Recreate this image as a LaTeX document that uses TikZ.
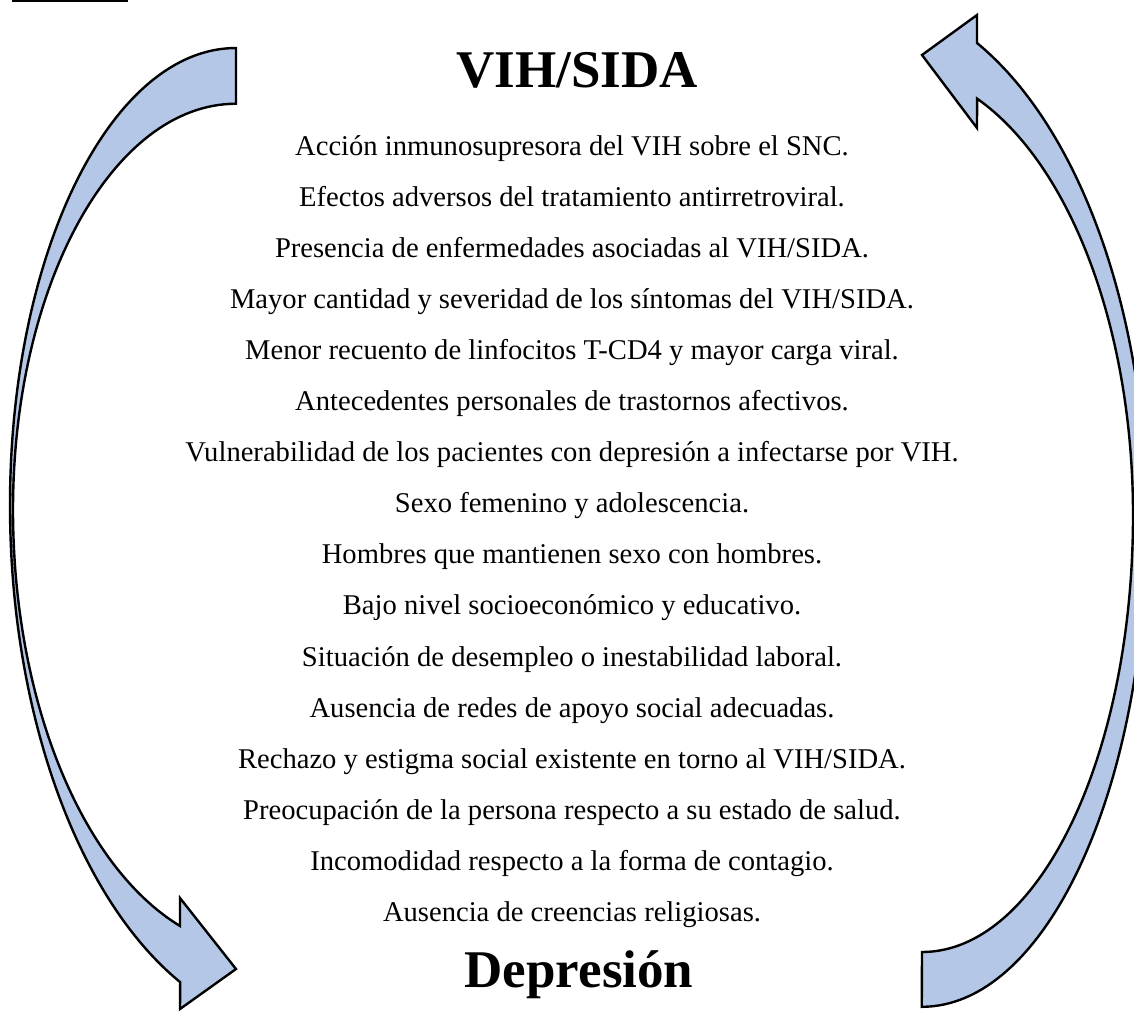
\documentclass[tikz,border=0pt]{standalone}
\usepackage{fontspec}
\setmainfont{Liberation Serif}
\usepackage{tikz}
\usetikzlibrary{positioning}
\definecolor{arrowblue}{RGB}{180,199,231}
\tikzstyle{bigarrow} = [draw=black, line width=2.4pt, fill=arrowblue, line join=miter]
\tikzstyle{headline} = [font=\fontsize{53}{60}\selectfont\bfseries, inner sep=0pt, anchor=base]
\tikzstyle{cause} = [font=\fontsize{28.6}{31}\selectfont, inner sep=0pt, text height=20pt, text depth=6pt]

\begin{document}
\begin{tikzpicture}[x=1pt, y=-1pt, node distance=24.7pt]
\useasboundingbox (0,0) rectangle (1134,1010);

% rule at the top
\draw[line width=1.2pt] (12,1) -- (128,1);

% Left arrow (down)
\draw[bigarrow] (236,48)
  arc[start angle=-90, end angle=-180, x radius=226, y radius=457]
  arc[start angle=180, end angle=114.4, x radius=290, y radius=524]
  -- (180,1009) -- (236,969) -- (180,898) -- (180,926)
  arc[start angle=108.9, end angle=180, x radius=247, y radius=440]
  arc[start angle=180, end angle=270, x radius=223, y radius=406]
  -- cycle;

% Right arrow (up)
\draw[bigarrow] (977,43)
  arc[start angle=-65.5, end angle=0, x radius=290, y radius=524]
  arc[start angle=0, end angle=90, x radius=225, y radius=487]
  -- (922,952)
  arc[start angle=90, end angle=0, x radius=211, y radius=437]
  arc[start angle=0, end angle=-69, x radius=243, y radius=446]
  -- (977,128) -- (922,55) -- (977,15) -- cycle;

% Titles
\node[headline] (vih) at (577,87) {VIH/SIDA};
\node[headline] (dep) at (579,987) {Depresión};

% Factors
\node[cause, anchor=base] (c1) at (572,155) {Acción inmunosupresora del VIH sobre el SNC.};
\node[cause, below=of c1] (c2) {Efectos adversos del tratamiento antirretroviral.};
\node[cause, below=of c2] (c3) {Presencia de enfermedades asociadas al VIH/SIDA.};
\node[cause, below=of c3] (c4) {Mayor cantidad y severidad de los síntomas del VIH/SIDA.};
\node[cause, below=of c4] (c5) {Menor recuento de linfocitos T-CD4 y mayor carga viral.};
\node[cause, below=of c5] (c6) {Antecedentes personales de trastornos afectivos.};
\node[cause, below=of c6] (c7) {Vulnerabilidad de los pacientes con depresión a infectarse por VIH.};
\node[cause, below=of c7] (c8) {Sexo femenino y adolescencia.};
\node[cause, below=of c8] (c9) {Hombres que mantienen sexo con hombres.};
\node[cause, below=of c9] (c10) {Bajo nivel socioeconómico y educativo.};
\node[cause, below=of c10] (c11) {Situación de desempleo o inestabilidad laboral.};
\node[cause, below=of c11] (c12) {Ausencia de redes de apoyo social adecuadas.};
\node[cause, below=of c12] (c13) {Rechazo y estigma social existente en torno al VIH/SIDA.};
\node[cause, below=of c13] (c14) {Preocupación de la persona respecto a su estado de salud.};
\node[cause, below=of c14] (c15) {Incomodidad respecto a la forma de contagio.};
\node[cause, below=of c15] (c16) {Ausencia de creencias religiosas.};
\end{tikzpicture}
\end{document}
